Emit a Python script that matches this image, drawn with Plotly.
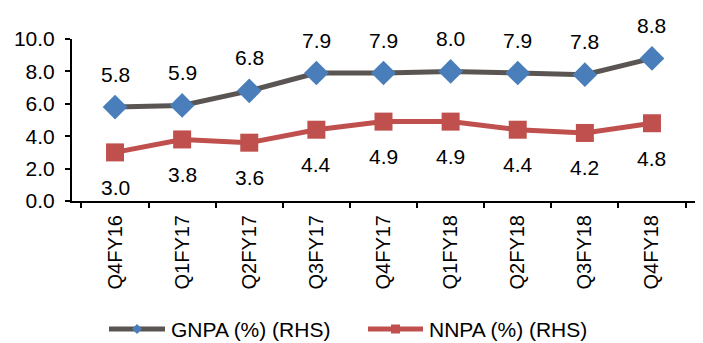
import plotly.graph_objects as go

quarters = ["Q4FY16", "Q1FY17", "Q2FY17", "Q3FY17", "Q4FY17",
            "Q1FY18", "Q2FY18", "Q3FY18", "Q4FY18"]
gnpa = [5.8, 5.9, 6.8, 7.9, 7.9, 8.0, 7.9, 7.8, 8.8]
nnpa = [3.0, 3.8, 3.6, 4.4, 4.9, 4.9, 4.4, 4.2, 4.8]

FONT = "Liberation Sans, Arial, sans-serif"
GREY, BLUE, RED = "#5a5552", "#4a7ebb", "#c0504d"
FS = 21

W, H = 703, 343
L, R, T, B = 72, 8, 39, 142
PW, PH = W - L - R, H - T - B


def px_x(x):
    return (x - L) / PW


def px_y(y):
    return (H - B - y) / PH


fig = go.Figure()
fig.add_trace(go.Scatter(
    x=quarters, y=gnpa, name="GNPA (%) (RHS)", mode="lines+markers",
    line=dict(color=GREY, width=5),
    marker=dict(symbol="diamond", size=19, color=BLUE),
    cliponaxis=False,
))
fig.add_trace(go.Scatter(
    x=quarters, y=nnpa, name="NNPA (%) (RHS)", mode="lines+markers",
    line=dict(color=RED, width=5),
    marker=dict(symbol="square", size=18, color=RED),
    cliponaxis=False,
))

# value labels: GNPA above its points, NNPA below
for q, v in zip(quarters, gnpa):
    fig.add_annotation(x=q, y=v, text=f"{v:.1f}", showarrow=False, yshift=33,
                       font=dict(size=FS, color="#000000", family=FONT))
for q, v in zip(quarters, nnpa):
    fig.add_annotation(x=q, y=v, text=f"{v:.1f}", showarrow=False, yshift=-35,
                       font=dict(size=FS, color="#000000", family=FONT))

# legend drawn below the axis: long line sample, small marker, label
legend_items = [
    ("GNPA (%) (RHS)", GREY, BLUE, "diamond", 109, 165, 169),
    ("NNPA (%) (RHS)", RED, RED, "square", 368, 423, 427),
]
LY = 329
for name, lc, mc, sym, x0, x1, tx in legend_items:
    fig.add_shape(type="line", xref="paper", yref="paper",
                  x0=px_x(x0), x1=px_x(x1), y0=px_y(LY), y1=px_y(LY),
                  line=dict(color=lc, width=5))
    cx = (x0 + x1) / 2
    if sym == "diamond":
        d = 5
        path = (f"M {px_x(cx)} {px_y(LY - d)} L {px_x(cx + d)} {px_y(LY)} "
                f"L {px_x(cx)} {px_y(LY + d)} L {px_x(cx - d)} {px_y(LY)} Z")
        fig.add_shape(type="path", xref="paper", yref="paper", path=path,
                      fillcolor=mc, line=dict(color=mc, width=0))
    else:
        d = 4.5
        fig.add_shape(type="rect", xref="paper", yref="paper",
                      x0=px_x(cx - d), x1=px_x(cx + d),
                      y0=px_y(LY + d), y1=px_y(LY - d),
                      fillcolor=mc, line=dict(color=mc, width=0))
    fig.add_annotation(xref="paper", yref="paper", x=px_x(tx), y=px_y(LY),
                       xanchor="left", yanchor="middle", text=name, showarrow=False,
                       font=dict(size=FS, color="#000000", family=FONT))

fig.update_layout(
    width=W, height=H,
    margin=dict(l=L, r=R, t=T, b=B),
    paper_bgcolor="white", plot_bgcolor="white",
    font=dict(family=FONT, size=FS, color="#000000"),
    showlegend=False,
)
fig.update_xaxes(
    type="category", showgrid=False, showline=True, linecolor="#000000", linewidth=2,
    ticks="outside", ticklen=5, tickwidth=2, tickcolor="#000000", tickson="boundaries",
    tickangle=-90, tickfont=dict(size=20), ticklabelstandoff=4,
)
fig.update_yaxes(
    range=[0, 10], dtick=2, tickformat=".1f", showgrid=False, zeroline=False,
    showline=True, linecolor="#000000", linewidth=2,
    ticks="outside", ticklen=5, tickwidth=2, tickcolor="#000000",
    tickfont=dict(size=FS), ticklabelstandoff=6,
)

fig.write_html("out.html")
